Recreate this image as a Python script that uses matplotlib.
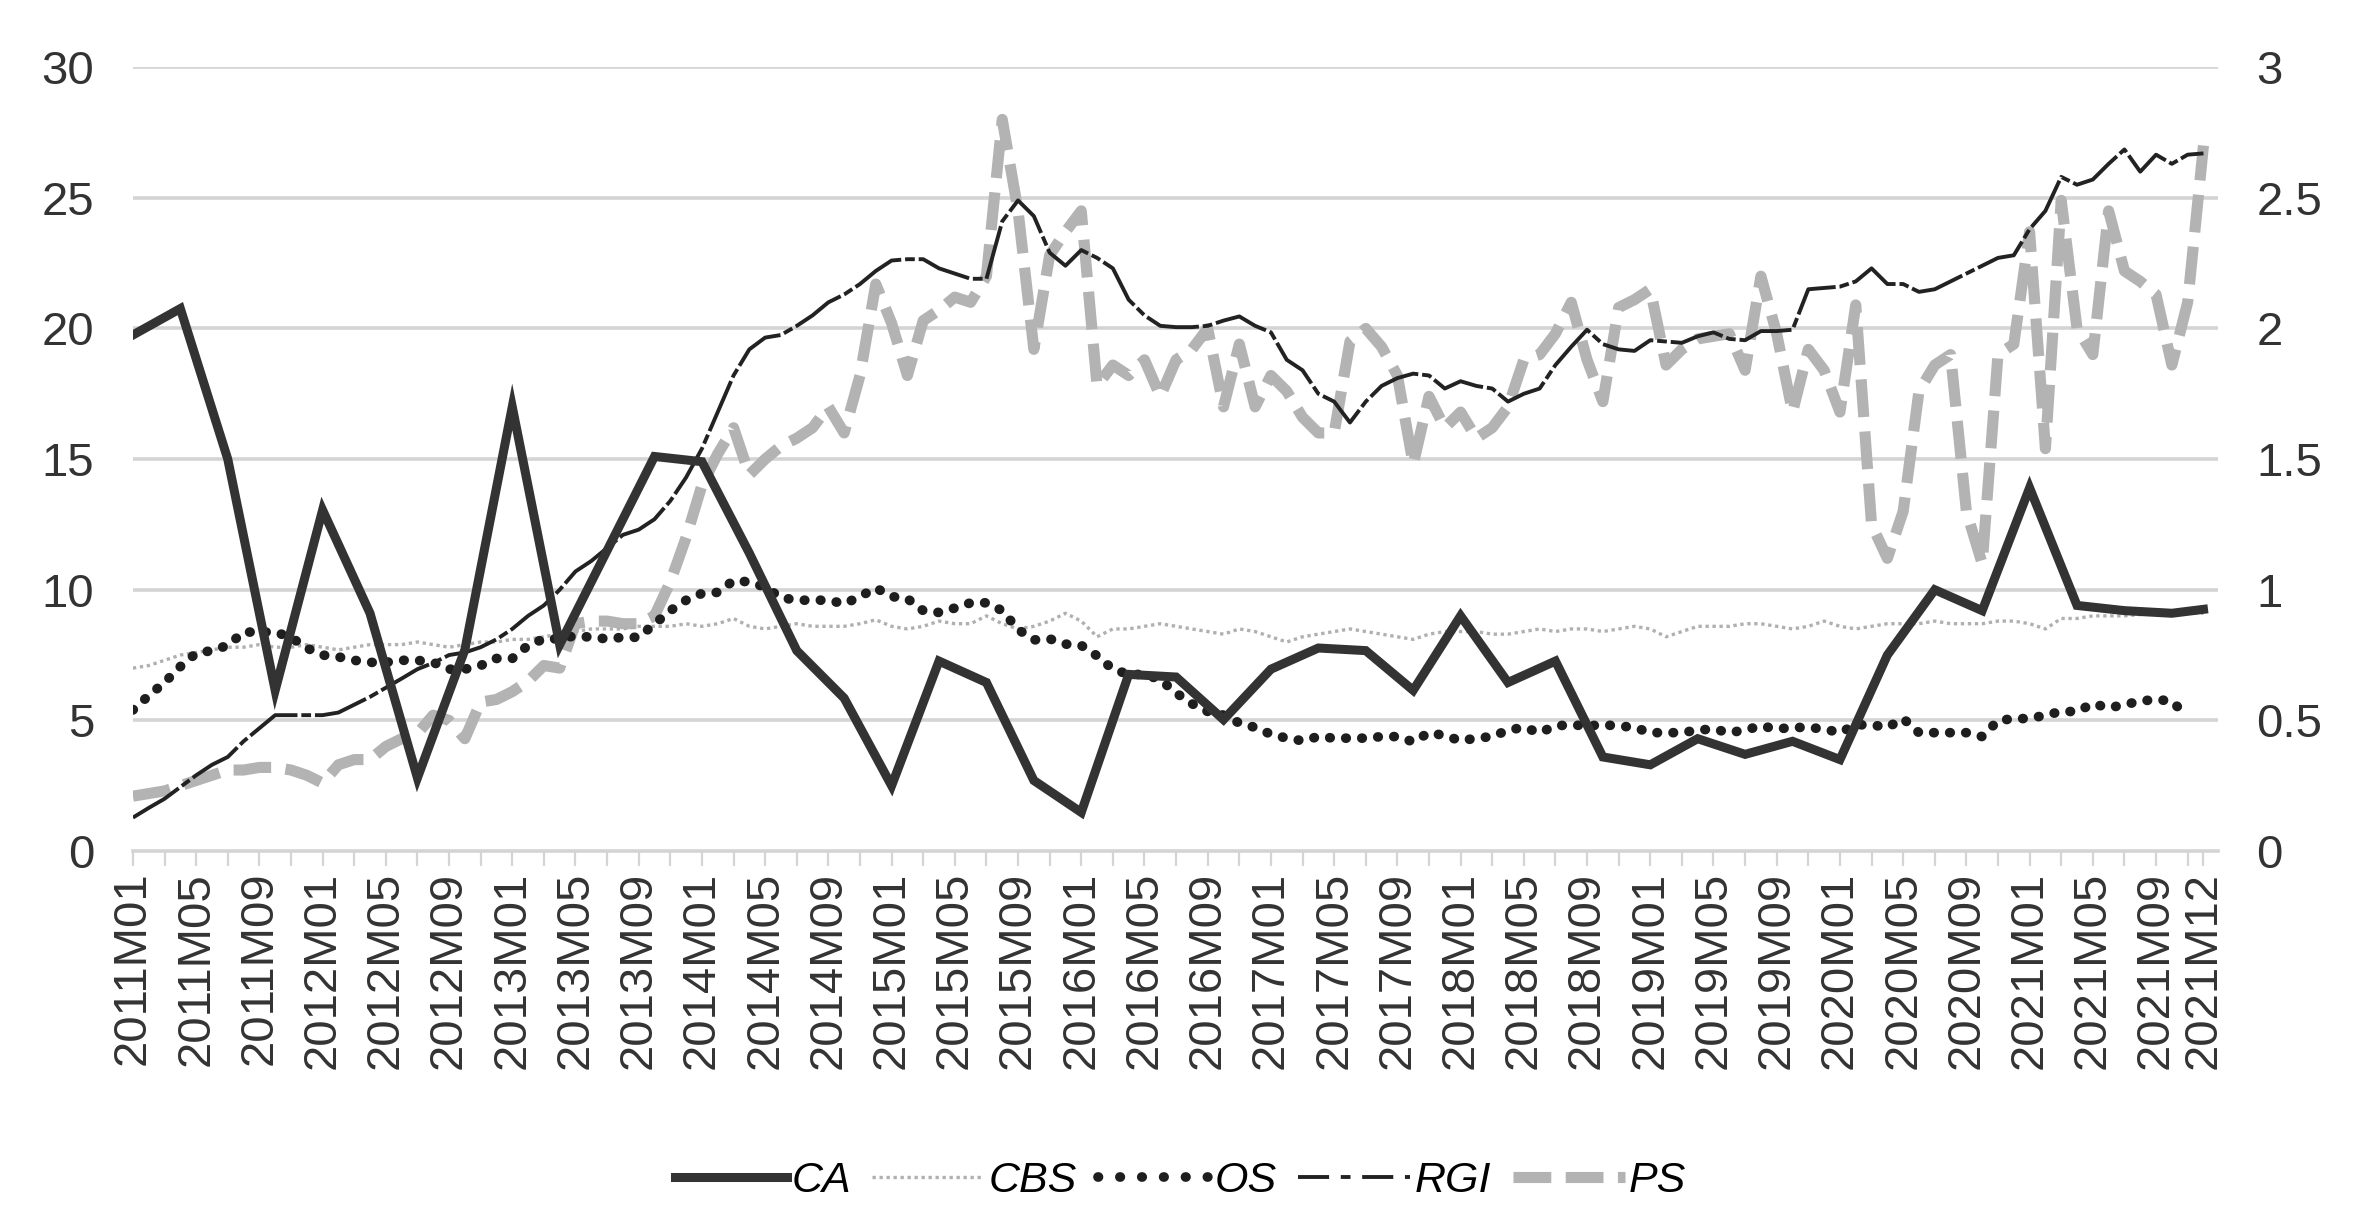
import matplotlib
matplotlib.use("Agg")
import matplotlib.pyplot as plt
import numpy as np
from matplotlib.lines import Line2D

plt.rcParams['font.family'] = ['Liberation Sans', 'DejaVu Sans']

# monthly categories 2011M01 .. 2021M12
months = ["%dM%02d" % (y, m) for y in range(2011, 2022) for m in range(1, 13)]

# CA is quarterly (every third month) plus the last month
ca_dates = months[::3] + ["2021M12"]
ca = [19.75, 20.76, 15.0, 6.15, 13.05, 9.1, 2.8, 7.7, 17.0, 7.9, 11.5, 15.1,
      14.9, 11.4, 7.67, 5.85, 2.5, 7.27, 6.45, 2.7, 1.48, 6.76, 6.66, 5.03,
      6.96, 7.77, 7.67, 6.15, 9.0, 6.45, 7.27, 3.6, 3.3, 4.3, 3.7, 4.2,
      3.5, 7.5, 10.0, 9.2, 13.9, 9.4, 9.2, 9.1, 9.25]

cbs = [7.0, 7.1, 7.3, 7.5, 7.6, 7.7, 7.8, 7.8, 7.9, 7.8, 7.8, 7.9,
       7.8, 7.7, 7.8, 7.9, 7.9, 7.9, 8.0, 7.9, 7.8, 7.9, 8.0, 8.0,
       8.1, 8.1, 8.2, 8.3, 8.4, 8.5, 8.5, 8.5, 8.6, 8.6, 8.6, 8.7,
       8.6, 8.7, 8.9, 8.6, 8.5, 8.6, 8.7, 8.6, 8.6, 8.6, 8.7, 8.85,
       8.6, 8.5, 8.6, 8.8, 8.7, 8.7, 9.0, 8.7, 8.5, 8.6, 8.8, 9.1,
       8.8, 8.2, 8.5, 8.5, 8.6, 8.7, 8.6, 8.5, 8.4, 8.3, 8.5, 8.4,
       8.2, 8.0, 8.2, 8.3, 8.4, 8.5, 8.4, 8.3, 8.2, 8.1, 8.3, 8.4,
       8.4, 8.4, 8.3, 8.3, 8.4, 8.5, 8.4, 8.5, 8.5, 8.4, 8.5, 8.6,
       8.5, 8.2, 8.4, 8.6, 8.6, 8.6, 8.7, 8.7, 8.6, 8.5, 8.6, 8.8,
       8.6, 8.5, 8.6, 8.7, 8.7, 8.7, 8.8, 8.7, 8.7, 8.7, 8.8, 8.8,
       8.7, 8.5, 8.9, 8.9, 9.0, 9.0, 9.0, 9.05, 9.1, 9.1, 9.1, 9.1]

os_ = [5.4, 5.95, 6.45, 7.06, 7.57, 7.67, 7.87, 8.38, 8.38, 8.38, 8.18, 7.77,
       7.5, 7.43, 7.3, 7.22, 7.22, 7.3, 7.3, 7.22, 6.96, 6.96, 7.1, 7.37,
       7.37, 7.87, 8.12, 8.12, 8.24, 8.18, 8.12, 8.18, 8.18, 8.69, 9.2, 9.6,
       9.86, 9.9, 10.35, 10.3, 10.1, 9.7, 9.6, 9.6, 9.6, 9.46, 9.74, 10.07,
       9.74, 9.66, 9.2, 9.13, 9.3, 9.5, 9.5, 9.2, 8.48, 8.08, 8.12, 7.92,
       7.87, 7.47, 6.96, 6.76, 6.76, 6.56, 6.05, 5.64, 5.34, 5.2, 4.9, 4.73,
       4.47, 4.32, 4.22, 4.38, 4.32, 4.32, 4.32, 4.38, 4.38, 4.18, 4.53, 4.42,
       4.22, 4.32, 4.38, 4.63, 4.73, 4.53, 4.79, 4.83, 4.79, 4.83, 4.79, 4.73,
       4.53, 4.53, 4.53, 4.63, 4.67, 4.53, 4.63, 4.79, 4.67, 4.73, 4.73, 4.67,
       4.53, 4.83, 4.83, 4.73, 5.07, 4.53, 4.53, 4.53, 4.53, 4.38, 4.99, 5.07,
       5.07, 5.2, 5.34, 5.34, 5.64, 5.48, 5.6, 5.74, 5.8, 5.74, 5.13, np.nan]

rgi = [1.28, 1.65, 2.0, 2.45, 2.9, 3.3, 3.6, 4.2, 4.7, 5.2, 5.2, 5.2,
       5.2, 5.3, 5.6, 5.9, 6.25, 6.6, 6.96, 7.2, 7.5, 7.6, 7.8, 8.1,
       8.5, 9.0, 9.4, 10.0, 10.7, 11.1, 11.6, 12.1, 12.3, 12.7, 13.4, 14.3,
       15.4, 16.8, 18.2, 19.2, 19.65, 19.75, 20.1, 20.5, 21.0, 21.3, 21.7, 22.2,
       22.6, 22.65, 22.65, 22.3, 22.1, 21.9, 21.9, 24.1, 24.9, 24.3, 22.9, 22.4,
       23.0, 22.7, 22.3, 21.1, 20.5, 20.1, 20.05, 20.05, 20.1, 20.3, 20.46, 20.1,
       19.85, 18.8, 18.4, 17.5, 17.2, 16.4, 17.2, 17.8, 18.1, 18.27, 18.2, 17.7,
       17.98, 17.8, 17.7, 17.2, 17.5, 17.7, 18.6, 19.3, 19.95, 19.4, 19.2, 19.14,
       19.55, 19.5, 19.45, 19.7, 19.85, 19.6, 19.55, 19.9, 19.9, 19.95, 21.5, 21.55,
       21.6, 21.8, 22.3, 21.7, 21.7, 21.4, 21.5, 21.8, 22.1, 22.4, 22.7, 22.8,
       23.8, 24.5, 25.8, 25.5, 25.7, 26.3, 26.85, 26.0, 26.65, 26.3, 26.65, 26.7]

ps = [0.21, 0.22, 0.23, 0.25, 0.27, 0.29, 0.31, 0.31, 0.32, 0.32, 0.31, 0.29,
      0.26, 0.33, 0.35, 0.35, 0.40, 0.43, 0.45, 0.52, 0.50, 0.43, 0.57, 0.58,
      0.61, 0.65, 0.71, 0.70, 0.87, 0.88, 0.88, 0.87, 0.87, 0.90, 1.03, 1.20,
      1.40, 1.52, 1.62, 1.44, 1.50, 1.55, 1.58, 1.62, 1.70, 1.60, 1.82, 2.17,
      2.02, 1.82, 2.03, 2.07, 2.12, 2.10, 2.20, 2.80, 2.45, 1.92, 2.28, 2.37,
      2.45, 1.78, 1.86, 1.82, 1.88, 1.74, 1.88, 1.92, 2.00, 1.70, 1.94, 1.70,
      1.82, 1.76, 1.66, 1.60, 1.60, 1.95, 2.00, 1.93, 1.82, 1.48, 1.74, 1.62,
      1.68, 1.58, 1.62, 1.70, 1.88, 1.90, 1.98, 2.10, 1.88, 1.72, 2.08, 2.11,
      2.15, 1.86, 1.92, 1.96, 1.97, 1.98, 1.84, 2.20, 1.98, 1.68, 1.92, 1.84,
      1.68, 2.09, 1.25, 1.12, 1.30, 1.76, 1.86, 1.90, 1.30, 1.10, 1.90, 1.94,
      2.37, 1.54, 2.49, 2.00, 1.90, 2.45, 2.22, 2.18, 2.13, 1.86, 2.10, 2.70]

x = np.arange(len(months))
ca_x = [months.index(d) for d in ca_dates]

fig = plt.figure(figsize=(23.61, 12.21), dpi=100)
ax = fig.add_axes([0.0563, 0.303, 0.883, 0.642])
ax2 = ax.twinx()
ax.set_zorder(ax2.get_zorder() + 1)
ax.patch.set_visible(False)

grid_c = '#d4d4d4'
for v in np.arange(0.5, 3.01, 0.5):
    ax2.axhline(v, color=grid_c, lw=2.6, zorder=0)

os_style = dict(color='#1e1e1e', lw=7.0, ls=(0, (0.05, 1.6)), dash_capstyle='round')
rgi_style = dict(color='#222222', lw=2.8, ls=(0, (14, 1.0, 2.5, 1.0)))
ps_style = dict(color='#b3b3b3', lw=8, ls=(0, (3.4, 1.3)))
cbs_style = dict(color='#b0b0b0', lw=2.4, ls=(0, (1, 1.1)))
ca_style = dict(color='#333333', lw=6.5)

ax2.plot(x, ps, zorder=2, **ps_style)
ax.plot(x, cbs, zorder=2, **cbs_style)
ax.plot(x, os_, zorder=3, **os_style)
ax.plot(x, rgi, zorder=4, **rgi_style)
ax.plot(ca_x, ca, zorder=5, solid_joinstyle='miter', **ca_style)

ax.set_xlim(0, 131.9)
ax.set_ylim(0, 30)
ax2.set_ylim(0, 3)
ax.set_yticks(np.arange(0, 31, 5))
ax2.set_yticks(np.arange(0, 3.01, 0.5))
ax2.set_yticklabels(["0", "0.5", "1", "1.5", "2", "2.5", "3"])

lab_pos = list(range(0, 129, 4)) + [131]
ax.set_xticks(lab_pos)
ax.set_xticklabels([months[i] for i in lab_pos], rotation=90)
ax.set_xticks(np.arange(0, 132, 2), minor=True)

for a in (ax, ax2):
    for s in a.spines.values():
        s.set_visible(False)
ax.spines['bottom'].set_visible(True)
ax.spines['bottom'].set_color(grid_c)
ax.spines['bottom'].set_linewidth(2.6)

ax.tick_params(axis='x', which='both', length=11, width=1.6, color=grid_c,
               labelsize=34, labelcolor='#333333', pad=4)
ax.tick_params(axis='y', length=0, labelsize=34, labelcolor='#333333', pad=28)
ax2.tick_params(axis='y', length=0, labelsize=34, labelcolor='#333333', pad=28)

handles = [
    Line2D([], [], **ca_style),
    Line2D([], [], **cbs_style),
    Line2D([], [], color='#1e1e1e', lw=7.0, ls=(0, (0.05, 2.2)), dash_capstyle='round'),
    Line2D([], [], color='#222222', lw=2.8, ls=(0, (8, 3, 2.5, 3))),
    Line2D([], [], **ps_style),
]
fig.legend(handles, ["CA", "CBS", "OS", "RGI", "PS"], loc='center',
           bbox_to_anchor=(0.5, 0.033), ncol=5, frameon=False,
           prop={'size': 31, 'style': 'italic'}, handlelength=2.6,
           handletextpad=0.1, columnspacing=0.5)

fig.savefig('out.png', dpi=100, facecolor='white')
